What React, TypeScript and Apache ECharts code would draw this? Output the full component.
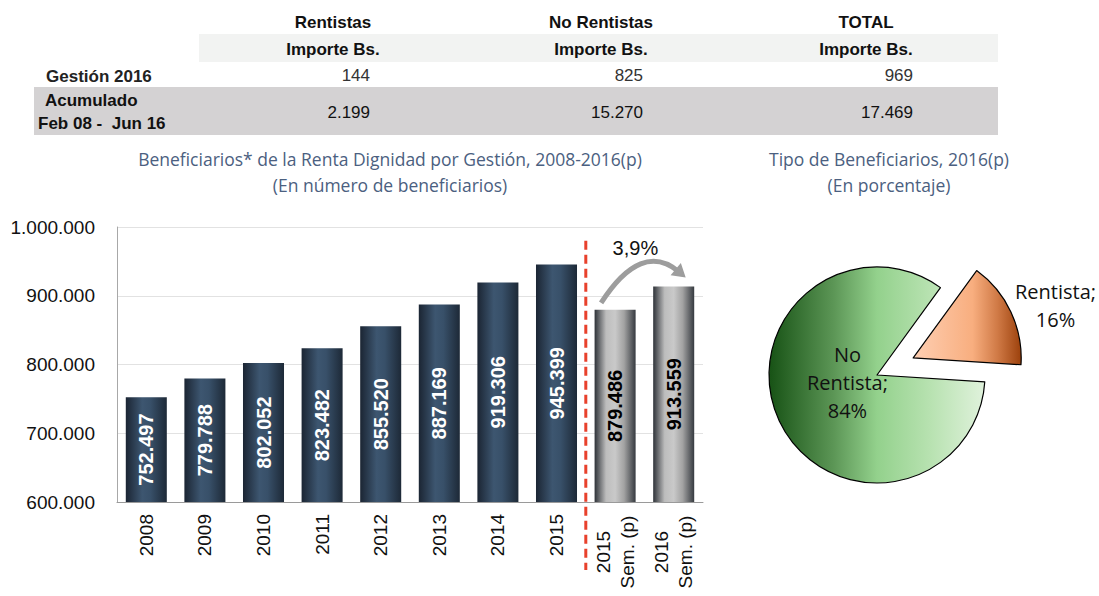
import React, { useEffect, useRef } from "react";
import * as echarts from "echarts";

const categories = ["2008", "2009", "2010", "2011", "2012", "2013", "2014", "2015", "2015\nSem. (p)", "2016\nSem. (p)"];
const beneficiarios = [752497, 779788, 802052, 823482, 855520, 887169, 919306, 945399, 879486, 913559];
const yMin = 600000;
const yMax = 1000000;
const yInterval = 100000;

const pieNames = ["Rentista", "No Rentista"];
const pieValues = [16, 84];

const tableHeaders = ["Rentistas", "No Rentistas", "TOTAL"];
const tableSubheader = "Importe Bs.";
const rowGestionLabel = "Gestión 2016";
const rowAcumLabel1 = "Acumulado";
const rowAcumLabel2 = "Feb 08 -  Jun 16";
const gestion2016 = ["144", "825", "969"];
const acumulado = ["2.199", "15.270", "17.469"];

const barTitle = "Beneficiarios* de la Renta Dignidad por Gestión, 2008-2016(p)\n(En número de beneficiarios)";
const pieTitle = "Tipo de Beneficiarios, 2016(p)\n(En porcentaje)";

const fmt = (n: number) => String(Math.round(n)).replace(/\B(?=(\d{3})+(?!\d))/g, ".");

const ARIAL = "'Liberation Sans', Arial, sans-serif";
const MYRIAD = "'Open Sans', 'Noto Sans', sans-serif";

function txt(text: string, x: number, y: number, font: string, align: string, fill = "#1a1a1a") {
  return {
    type: "text",
    x,
    y,
    silent: true,
    style: { text, font, fill, align, verticalAlign: "middle", textAlign: align, textVerticalAlign: "middle" },
  };
}

export default function App() {
  const ref = useRef<HTMLDivElement>(null);
  useEffect(() => {
    if (!ref.current) return;
    const chart = echarts.init(ref.current, undefined, { renderer: "svg" });

    const isSem = categories.map((c) => c.includes("Sem."));
    const darkGrad = new echarts.graphic.LinearGradient(0, 0, 1, 0, [
      { offset: 0, color: "#1b2533" },
      { offset: 0.4, color: "#3d5670" },
      { offset: 0.6, color: "#385069" },
      { offset: 1, color: "#1d2937" },
    ]);
    const grayGrad = new echarts.graphic.LinearGradient(0, 0, 1, 0, [
      { offset: 0, color: "#2e3238" },
      { offset: 0.28, color: "#bdbdbd" },
      { offset: 0.5, color: "#c9c9c9" },
      { offset: 0.72, color: "#a2a2a2" },
      { offset: 1, color: "#363a40" },
    ]);
    const greenGrad = new echarts.graphic.LinearGradient(0, 0, 1, 0, [
      { offset: 0, color: "#175215" },
      { offset: 0.3, color: "#5c9656" },
      { offset: 0.5, color: "#93d18c" },
      { offset: 0.75, color: "#b8e2b1" },
      { offset: 1, color: "#e0f2dc" },
    ]);
    const orangeGrad = new echarts.graphic.LinearGradient(0, 0, 1, 0, [
      { offset: 0, color: "#fecfb3" },
      { offset: 0.55, color: "#f8ae7f" },
      { offset: 0.78, color: "#d07a46" },
      { offset: 1, color: "#9c410c" },
    ]);

    const titleStyle = { fontFamily: MYRIAD, fontSize: 17.5, fontWeight: "normal", color: "#4b6080", lineHeight: 26, align: "center" };

    const option: any = {
      animation: false,
      backgroundColor: "#ffffff",
      title: [
        { text: barTitle, left: 385, top: 141, textAlign: "center", textStyle: titleStyle },
        { text: pieTitle, left: 884, top: 141, textAlign: "center", textStyle: titleStyle },
      ],
      grid: { left: 117, top: 227, width: 586, height: 275, containLabel: false },
      xAxis: {
        type: "category",
        data: categories,
        axisLine: { show: true, lineStyle: { color: "#9a9a9a", width: 1 } },
        axisTick: { show: false },
        axisLabel: {
          interval: 0,
          rotate: 90,
          margin: 12,
          fontFamily: ARIAL,
          fontSize: 19,
          color: "#111",
          lineHeight: 24,
          formatter: (v: string) =>
            v.includes("\n") ? v.split("\n").map((s) => `{c|${s}}`).join("\n") : v,
          rich: { c: { width: 76, align: "center", fontFamily: ARIAL, fontSize: 19, color: "#111", lineHeight: 24 } },
        },
        splitLine: { show: false },
      },
      yAxis: {
        type: "value",
        min: yMin,
        max: yMax,
        interval: yInterval,
        axisLine: { show: true, lineStyle: { color: "#a8a8a8", width: 1 } },
        axisTick: { show: false },
        splitLine: { show: true, lineStyle: { color: "#e2e2e2", width: 1 } },
        axisLabel: {
          margin: 22,
          fontFamily: ARIAL,
          fontSize: 19,
          color: "#111",
          formatter: (v: number) => fmt(v),
        },
      },
      series: [
        {
          type: "bar",
          barWidth: "70%",
          silent: true,
          data: beneficiarios.map((v, i) => ({
            value: v,
            itemStyle: { color: isSem[i] ? grayGrad : darkGrad },
            label: { color: isSem[i] ? "#000" : "#fff" },
          })),
          label: {
            show: true,
            position: "inside",
            rotate: 90,
            fontFamily: ARIAL,
            fontSize: 20,
            fontWeight: "bold",
            formatter: (p: any) => fmt(p.value),
          },
        },
        {
          type: "pie",
          center: [877, 375],
          radius: 108,
          startAngle: 54,
          clockwise: true,
          selectedMode: "single",
          selectedOffset: 40,
          avoidLabelOverlap: false,
          silent: true,
          emphasis: { disabled: true },
          itemStyle: { borderColor: "#000", borderWidth: 1.2 },
          labelLine: { show: false, length: 4, length2: 0 },
          labelLayout: (params: any) => (params.dataIndex === 1 ? { dx: 11, dy: -8.5 } : { dx: -6, dy: -5 }),
          data: pieNames.map((n, i) => ({
            name: n,
            value: pieValues[i],
            selected: i === 0,
            itemStyle: { color: i === 0 ? orangeGrad : greenGrad },
            label:
              i === 0
                ? {
                    show: true,
                    position: "outside",
                    formatter: (p: any) => `{a|${p.name};}\n{a|${p.value}%}`,
                    rich: { a: { width: 84, align: "center", fontFamily: MYRIAD, fontSize: 20, color: "#111", lineHeight: 28 } },
                  }
                : {
                    show: true,
                    position: "inside",
                    formatter: (p: any) => `No\n${p.name.replace("No ", "")};\n${p.value}%`,
                    fontFamily: MYRIAD,
                    fontSize: 20,
                    color: "#111",
                    lineHeight: 28,
                    align: "center",
                  },
          })),
        },
      ],
    };
    chart.setOption(option);

    // overlays computed from the axes
    const px = (i: number, v: number) => chart.convertToPixel({ xAxisIndex: 0, yAxisIndex: 0 }, [i, v]) as number[];
    const n = categories.length;
    const firstSem = isSem.indexOf(true);
    const [xA] = px(firstSem - 1, yMin);
    const [xB] = px(firstSem, yMin);
    const divX = (xA + xB) / 2;
    const divTop = px(0, 980000)[1];
    const divBottom = px(0, yMin)[1] + 68;

    const [x8, y8] = px(n - 2, beneficiarios[n - 2]);
    const [x9, y9] = px(n - 1, beneficiarios[n - 1]);
    const P0 = [x8 - 14, y8 - 7];
    const C = [(x8 + x9) / 2 - 3, Math.min(y8, y9) - 46];
    const tip = [x9 + 12, y9 - 9];
    const dxv = tip[0] - C[0];
    const dyv = tip[1] - C[1];
    const len = Math.hypot(dxv, dyv);
    const u = [dxv / len, dyv / len];
    const perp = [-u[1], u[0]];
    const lineEnd = [tip[0] - 9 * u[0], tip[1] - 9 * u[1]];
    const base = [tip[0] - 13 * u[0], tip[1] - 13 * u[1]];
    const growth = ((beneficiarios[n - 1] / beneficiarios[n - 2] - 1) * 100).toFixed(1).replace(".", ",") + "%";

    const tableCols = [333, 601, 866];
    const valueRight = [370, 643, 913];

    const graphic: any[] = [
      { type: "rect", silent: true, shape: { x: 199, y: 34, width: 799, height: 28 }, style: { fill: "#f2f3f2" } },
      { type: "rect", silent: true, shape: { x: 34, y: 87, width: 964, height: 48 }, style: { fill: "#d4d2d3" } },
      ...tableHeaders.map((h, i) => txt(h, tableCols[i], 22, `bold 17px ${ARIAL}`, "center", "#111")),
      ...tableHeaders.map((_, i) => txt(tableSubheader, tableCols[i], 49, `bold 17px ${ARIAL}`, "center", "#111")),
      txt(rowGestionLabel, 46, 76, `bold 17px ${ARIAL}`, "left", "#222"),
      txt(rowAcumLabel1, 45, 100, `bold 17px ${ARIAL}`, "left", "#111"),
      txt(rowAcumLabel2, 38, 123, `bold 17px ${ARIAL}`, "left", "#111"),
      ...gestion2016.map((v, i) => txt(v, valueRight[i], 75, `17px ${ARIAL}`, "right", "#333")),
      ...acumulado.map((v, i) => txt(v, valueRight[i], 112, `17px ${ARIAL}`, "right", "#111")),
      {
        type: "line",
        silent: true,
        shape: { x1: divX, y1: divTop, x2: divX, y2: divBottom },
        style: { stroke: "#e8412c", lineWidth: 3, lineDash: [9, 5] },
        z: 10,
      },
      {
        type: "bezierCurve",
        silent: true,
        shape: { x1: P0[0], y1: P0[1], cpx1: C[0], cpy1: C[1], x2: lineEnd[0], y2: lineEnd[1] },
        style: { stroke: "#9d9d9d", lineWidth: 5, fill: null },
        z: 10,
      },
      {
        type: "polygon",
        silent: true,
        shape: {
          points: [
            tip,
            [base[0] + 8 * perp[0], base[1] + 8 * perp[1]],
            [base[0] - 8 * perp[0], base[1] - 8 * perp[1]],
          ],
        },
        style: { fill: "#9d9d9d" },
        z: 10,
      },
      txt(growth, (x8 + x9) / 2 - 9, y9 - 38, `20px ${ARIAL}`, "center", "#111"),
    ];
    chart.setOption({ graphic });

    return () => chart.dispose();
  }, []);
  return <div ref={ref} style={{ position: "fixed", left: 0, top: 0, width: 1099, height: 596, background: "#fff" }} />;
}
